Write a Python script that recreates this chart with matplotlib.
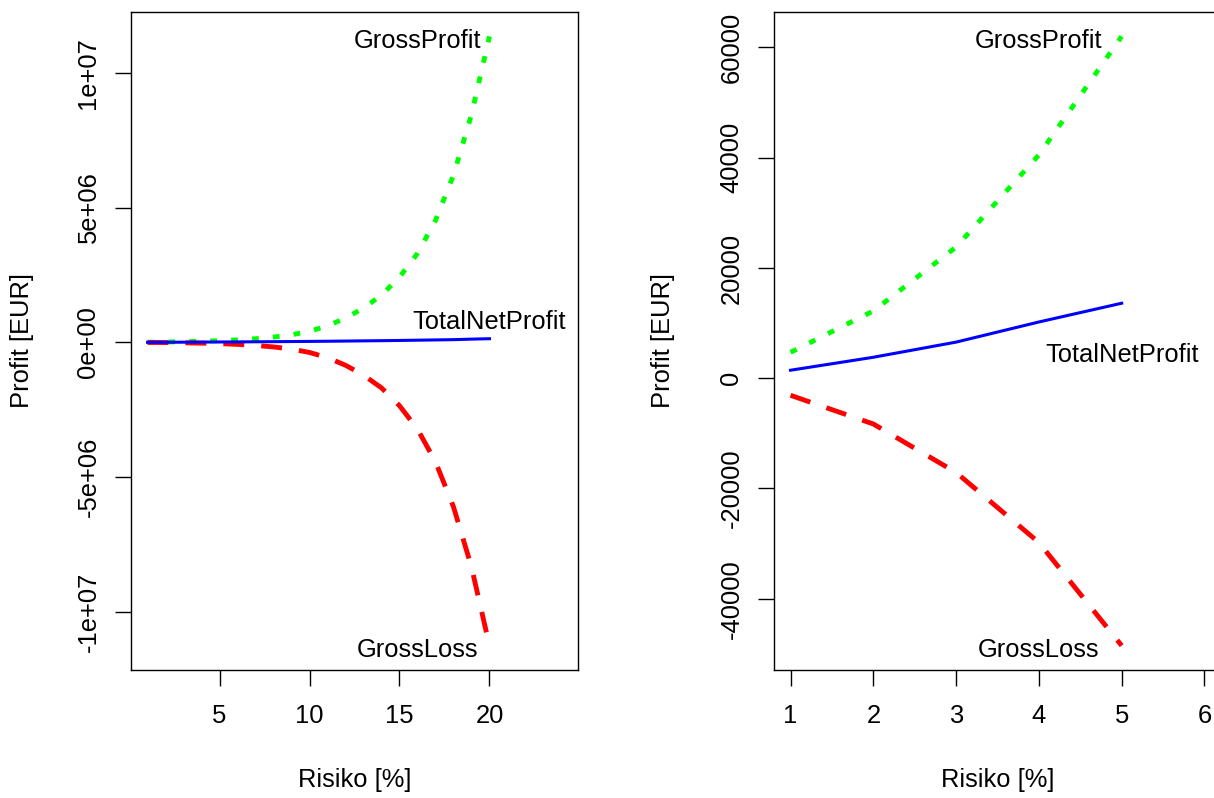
import matplotlib.pyplot as plt

plt.rcParams['font.family'] = ['Liberation Sans', 'DejaVu Sans']
plt.rcParams['font.size'] = 18.4

# values (risk in %, profit in EUR)
risiko = list(range(1, 21))
gross_profit = [4700, 12200, 23800, 40500, 62000, 92000, 135000, 195000, 280000, 410000,
                610000, 900000, 1270000, 1750000, 2420000, 3300000, 4520000, 6200000,
                8450000, 11350000]
gross_loss = [-3100, -8300, -17100, -29800, -48500, -75000, -114000, -170000, -250000,
              -375000, -570000, -850000, -1215000, -1690000, -2350000, -3220000,
              -4430000, -6100000, -8330000, -11250000]
total_net_profit = [1450, 3800, 6550, 10200, 13600, 17000, 21000, 25000, 30000, 35000,
                    41000, 48000, 55000, 62000, 70000, 80000, 90000, 100000, 120000, 135000]

left_xticks = [5, 10, 15, 20]
left_yticks = [-1e7, -5e6, 0, 5e6, 1e7]
left_ylabels = ["-1e+07", "-5e+06", "0e+00", "5e+06", "1e+07"]
right_xticks = [1, 2, 3, 4, 5, 6]
right_yticks = [-40000, -20000, 0, 20000, 40000, 60000]
right_ylabels = ["-40000", "-20000", "0", "20000", "40000", "60000"]

W, H = 1214, 798
fig = plt.figure(figsize=(W / 100, H / 100), dpi=100)
ax1 = fig.add_axes([131 / W, 1 - 670 / H, 447 / W, 658 / H])
ax2 = fig.add_axes([774 / W, 1 - 670 / H, 447 / W, 658 / H])


def panel(ax, n, xmax, xticks, yticks, ylabels, ylab_x):
    x = risiko[:n]
    gp = gross_profit[:n]
    gl = gross_loss[:n]
    net = total_net_profit[:n]
    ax.plot(x, gp, color='#00ff00', lw=3.5, dashes=(1.4, 2.9))
    ax.plot(x, gl, color='#ff0000', lw=3.5, dashes=(4.3, 3.5))
    ax.plot(x, net, color='#0000ff', lw=2.2)

    # R style 4% padding
    xpad = 0.04 * (xmax - 1)
    ax.set_xlim(1 - xpad, xmax + xpad)
    lo, hi = min(gl), max(gp)
    ypad = 0.04 * (hi - lo)
    ax.set_ylim(lo - ypad, hi + ypad)

    kw = dict(textcoords='offset points', xytext=(0, -3), ha='center', va='center')
    ax.annotate("GrossProfit", (0.8 * n, max(gp)), **kw)
    ax.annotate("GrossLoss", (0.8 * n, min(gl)), **kw)
    ax.annotate("TotalNetProfit", (n, 0.08 * max(gp)), **kw)

    ax.set_xticks(xticks)
    ax.set_yticks(yticks)
    ax.set_yticklabels(ylabels)
    ax.tick_params(axis='both', direction='out', length=11.5, width=1)
    ax.tick_params(axis='x', pad=13)
    ax.tick_params(axis='y', pad=10.5, labelrotation=90)
    for lab in ax.get_yticklabels():
        lab.set_va('center')
    for s in ax.spines.values():
        s.set_linewidth(1)

    ax.set_xlabel("Risiko [%]")
    ax.xaxis.set_label_coords(0.5, -0.149)
    ax.set_ylabel("Profit [EUR]")
    ax.yaxis.set_label_coords(ylab_x, 0.5)


panel(ax1, 20, 24, left_xticks, left_yticks, left_ylabels, -0.217)
panel(ax2, 5, 6, right_xticks, right_yticks, right_ylabels, -0.2215)

fig.savefig("out.png", dpi=100)
